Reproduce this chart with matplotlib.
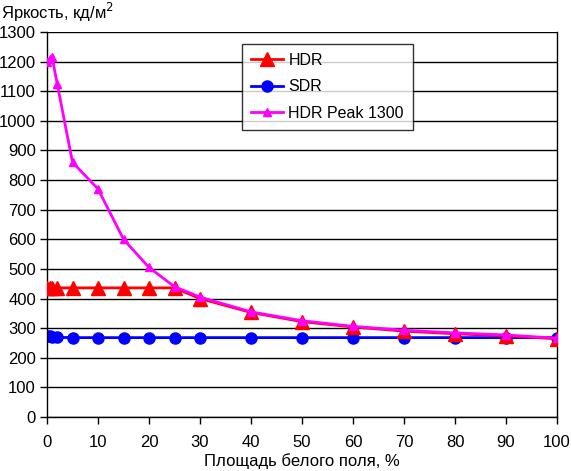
import numpy as np
import matplotlib.pyplot as plt

plt.rcParams['font.family'] = ['Liberation Sans', 'DejaVu Sans']

# Площадь белого поля, %
x = [0, 0.5, 1, 2, 5, 10, 15, 20, 25, 30, 40, 50, 60, 70, 80, 90, 100]

hdr = [436, 437, 437, 436, 436, 436, 436, 436, 436, 400, 353, 322, 304, 290, 281, 274, 264]
sdr = [272, 272, 271, 269, 268, 268, 268, 268, 268, 268, 268, 268, 268, 268, 268, 268, 268]
hdr_peak = [1198, 1210, 1215, 1125, 860, 770, 600, 505, 440, 405, 355, 325, 306, 293, 284, 277, 266]

fig = plt.figure(figsize=(5.71, 4.71), dpi=100)
ax = fig.add_axes([47 / 571, (471 - 417) / 471, 510 / 571, 385 / 471])

ax.plot(x, hdr, color='red', lw=2, marker='^', ms=10, label='HDR', zorder=3)
ax.plot(x, sdr, color='blue', lw=2, marker='o', ms=8, label='SDR', zorder=2)
ax.plot(x, hdr_peak, color='magenta', lw=2, marker='^', ms=6, label='HDR Peak 1300', zorder=4)

ax.set_xlim(0, 100)
ax.set_ylim(0, 1300)
ax.set_xticks(np.arange(0, 101, 10))
ax.set_yticks(np.arange(0, 1301, 100))
ax.grid(axis='y', color='black', lw=1)
ax.set_axisbelow(True)

for s in ['top', 'bottom', 'left', 'right']:
    ax.spines[s].set_color('black')
    ax.spines[s].set_linewidth(1)
ax.spines['top'].set_visible(False)

ax.tick_params(axis='both', direction='out', length=5, width=1, labelsize=12, colors='black')
ax.tick_params(axis='x', pad=8)
ax.tick_params(axis='y', pad=3)

ax.set_xlabel('Площадь белого поля, %', fontsize=12, labelpad=2)
fig.text(1 / 571, 1 - 12 / 471, 'Яркость, кд/м$^2$', fontsize=12, va='center', ha='left')

leg = ax.legend(loc='upper left', bbox_to_anchor=((242 - 47) / 510, (417 - 44) / 385),
                fontsize=11.5, frameon=True, fancybox=False, shadow=False,
                borderpad=0.55, handlelength=2.0, handletextpad=0.35,
                labelspacing=0.72, borderaxespad=0)
leg.get_frame().set_edgecolor('black')
leg.get_frame().set_linewidth(1)

fig.savefig('out.png', dpi=100)
